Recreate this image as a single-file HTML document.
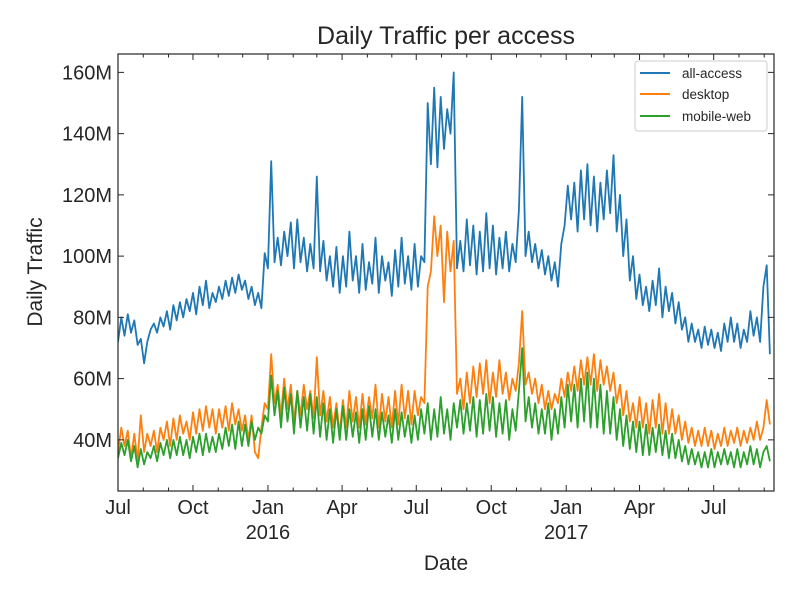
<!DOCTYPE html>
<html><head><meta charset="utf-8"><style>
html,body{margin:0;padding:0;background:#fff;}
svg{display:block;font-family:"Liberation Sans",sans-serif;}
</style></head><body>
<svg id="chart" width="800" height="600" viewBox="0 0 800 600" xmlns="http://www.w3.org/2000/svg">
<rect width="800" height="600" fill="#fff"/>
<text x="446" y="44" font-size="25" text-anchor="middle" fill="#262626">Daily Traffic per access</text>
<text x="446" y="570" font-size="21" text-anchor="middle" fill="#262626">Date</text>
<text transform="translate(42,272) rotate(-90)" font-size="21" text-anchor="middle" fill="#262626">Daily Traffic</text>
<g id="plot"></g>
<g id="legend">
<rect x="635" y="61" width="132" height="70" rx="3" fill="#fff" stroke="#ccc" stroke-width="1"/>
<g><line x1="640" y1="73" x2="670" y2="73" stroke="#1f77b4" stroke-width="2"/><text x="682" y="78" font-size="13.5" fill="#262626">all-access</text></g>
<g><line x1="640" y1="94" x2="670" y2="94" stroke="#ff7f0e" stroke-width="2"/><text x="682" y="99" font-size="13.5" fill="#262626">desktop</text></g>
<g><line x1="640" y1="116" x2="670" y2="116" stroke="#2ca02c" stroke-width="2"/><text x="682" y="121" font-size="13.5" fill="#262626">mobile-web</text></g>
</g>
</svg>
<script>
// values in millions, sampled every 4 days from 2015-07-01
const stepDays = 4;
const allAccess = [72,80,74,81,75,79,71,73,65,72,76,78,75,80,77,82,76,84,79,85,80,86,82,88,81,90,84,92,83,88,85,90,86,92,87,93,88,94,89,92,86,90,84,88,83,101,96,131,98,106,97,108,100,111,96,112,98,106,95,104,96,126,95,105,92,100,90,103,88,100,90,108,92,100,88,104,89,98,91,106,88,100,92,98,87,102,90,106,91,100,89,104,90,100,98,150,130,155,129,152,135,148,140,160,96,105,95,112,97,110,94,108,95,114,96,110,94,106,96,108,95,104,98,115,152,100,108,98,104,96,102,94,100,92,98,90,104,110,123,112,124,108,128,112,130,110,126,108,124,112,128,114,133,108,120,100,112,92,100,86,94,84,90,82,92,84,96,80,90,82,88,78,85,76,80,72,78,72,76,70,77,71,76,70,75,69,78,72,80,72,78,70,76,72,82,74,80,72,90,97,68];
const desktop = [36,44,38,43,34,42,33,48,36,42,38,43,36,44,40,46,38,47,40,48,42,46,40,49,42,50,43,51,44,50,42,50,44,51,43,52,45,50,43,48,40,48,36,34,44,52,50,68,52,58,48,60,50,58,46,56,48,58,50,56,47,67,48,56,46,54,44,52,42,53,44,56,46,54,44,55,45,54,47,58,44,55,46,54,44,56,45,58,47,56,45,56,48,54,52,90,95,113,100,110,85,108,95,105,55,60,50,62,52,64,54,65,55,66,52,62,54,66,55,62,53,60,56,65,82,58,62,55,60,52,58,50,56,50,55,52,60,54,62,56,64,56,66,58,67,58,68,56,66,58,64,56,62,52,58,48,56,46,52,44,54,44,52,42,53,44,55,42,52,42,50,42,48,40,46,39,44,38,43,38,44,38,43,37,42,38,44,38,43,39,44,38,43,39,44,40,46,40,44,53,45];
const mobileWeb = [34,39,35,40,33,38,31,37,32,36,34,38,33,39,35,40,34,40,35,41,35,40,34,41,36,42,35,42,36,41,36,42,37,44,38,45,37,46,38,45,38,46,40,44,42,48,46,61,48,56,44,57,46,55,42,56,44,54,43,55,42,54,41,52,40,50,39,50,40,51,40,50,41,49,39,50,40,51,41,50,40,49,41,48,39,50,40,49,41,48,39,48,40,50,42,52,40,50,41,54,42,50,40,52,44,53,42,52,43,54,41,53,42,55,43,54,41,52,42,53,40,50,43,56,70,46,54,44,52,42,50,42,52,40,50,42,54,44,58,46,58,44,60,46,62,44,60,44,58,42,56,42,54,40,50,38,48,37,46,36,46,35,45,35,44,36,45,35,43,34,42,34,40,33,38,32,37,32,36,31,36,31,37,31,36,32,37,32,36,31,37,31,36,32,38,32,37,31,36,38,33];
const yTickValues = [40,60,80,100,120,140,160];
const yTickLabels = ["40M","60M","80M","100M","120M","140M","160M"];
const xMajorDays = [0,92,184,275,366,458,550,640,731];
const xMajorLabels = ["Jul","Oct","Jan","Apr","Jul","Oct","Jan","Apr","Jul"];
const yearLabels = [{day:184,text:"2016"},{day:550,text:"2017"}];
const xMinorDays = [31,62,123,153,215,244,306,336,397,428,489,519,581,609,670,700,762,793];

const L=118,R=774,T=54,B=491, D0=0, D1=805, Y0=23.3, Y1=166;
const x = d => L + (d-D0)/(D1-D0)*(R-L);
const y = v => B - (v-Y0)/(Y1-Y0)*(B-T);
const NS="http://www.w3.org/2000/svg";
const plot=document.getElementById('plot');
function mk(tag,attrs){const e=document.createElementNS(NS,tag);for(const k in attrs)e.setAttribute(k,attrs[k]);return e;}

const series=[[allAccess,"#1f77b4","series-all-access"],[desktop,"#ff7f0e","series-desktop"],[mobileWeb,"#2ca02c","series-mobile-web"]];
const clip=mk('clipPath',{id:'cp'});clip.appendChild(mk('rect',{x:L,y:T,width:R-L,height:B-T}));plot.appendChild(clip);
series.forEach(([arr,col,name])=>{
  const pts=arr.map((v,i)=>x(i*stepDays).toFixed(1)+','+y(v).toFixed(1)).join(' ');
  const pl=mk('polyline',{points:pts,fill:'none',stroke:col,'stroke-width':1.8,'stroke-linejoin':'round','clip-path':'url(#cp)'});
  
  
  plot.appendChild(pl);
});
const frame=mk('rect',{x:L,y:T,width:R-L,height:B-T,fill:'none',stroke:'#262626','stroke-width':1.2});


plot.appendChild(frame);
yTickValues.forEach((v,i)=>{
  const yy=y(v);
  plot.appendChild(mk('line',{x1:L,y1:yy,x2:L+6,y2:yy,stroke:'#262626'}));
  plot.appendChild(mk('line',{x1:R,y1:yy,x2:R-6,y2:yy,stroke:'#262626'}));
  const t=mk('text',{x:L-6,y:yy+7,'font-size':20,'text-anchor':'end',fill:'#262626'});
  
  
  t.textContent=yTickLabels[i];plot.appendChild(t);
});
xMajorDays.forEach((d,i)=>{
  const xx=x(d);
  plot.appendChild(mk('line',{x1:xx,y1:B,x2:xx,y2:B-6,stroke:'#262626'}));
  plot.appendChild(mk('line',{x1:xx,y1:T,x2:xx,y2:T+6,stroke:'#262626'}));
  const t=mk('text',{x:xx,y:B+23,'font-size':20,'text-anchor':'middle',fill:'#262626'});
  
  
  t.textContent=xMajorLabels[i];plot.appendChild(t);
});
xMinorDays.forEach(d=>{
  const xx=x(d);
  plot.appendChild(mk('line',{x1:xx,y1:B,x2:xx,y2:B-3.5,stroke:'#262626'}));
  plot.appendChild(mk('line',{x1:xx,y1:T,x2:xx,y2:T+3.5,stroke:'#262626'}));
});
yearLabels.forEach(o=>{
  const t=mk('text',{x:x(o.day),y:B+48,'font-size':20,'text-anchor':'middle',fill:'#262626'});
  
  
  t.textContent=o.text;plot.appendChild(t);
});
</script>
</body></html>
